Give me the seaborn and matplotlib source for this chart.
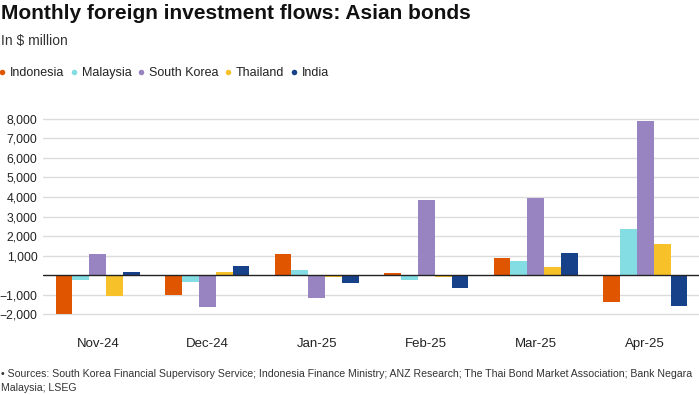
import matplotlib
matplotlib.use("Agg")
import matplotlib.pyplot as plt
import seaborn as sns
import pandas as pd
from matplotlib.lines import Line2D
from matplotlib.ticker import FixedLocator

months = ["Nov-24", "Dec-24", "Jan-25", "Feb-25", "Mar-25", "Apr-25"]
countries = ["Indonesia", "Malaysia", "South Korea", "Thailand", "India"]
indonesia = [-2000, -1020, 1080, 100, 870, -1400]
malaysia = [-250, -340, 250, -250, 720, 2360]
south_korea = [1060, -1620, -1160, 3860, 3970, 7910]
thailand = [-1100, 170, -100, -120, 430, 1570]
india = [130, 460, -430, -650, 1110, -1570]
colors = ["#DF5500", "#83DDE3", "#9884C1", "#F7C12A", "#17428A"]
yticks = [-2000, -1000, 1000, 2000, 3000, 4000, 5000, 6000, 7000, 8000]

series = [indonesia, malaysia, south_korea, thailand, india]
rows = []
for c, vals in zip(countries, series):
    for m, v in zip(months, vals):
        rows.append({"month": m, "country": c, "value": v})
df = pd.DataFrame(rows)

sns.set_style("white")
plt.rcParams["font.family"] = ["Liberation Sans", "DejaVu Sans"]

fig = plt.figure(figsize=(6.99, 3.95), dpi=100)
ax = fig.add_axes([43/699, 0.1927, 657/699, 0.5258])

sns.barplot(data=df, x="month", y="value", hue="country", order=months,
            hue_order=countries, palette=colors, width=0.77, ax=ax,
            legend=False, saturation=1, linewidth=0)

ax.set_ylim(-2250, 8400)
ax.set_xlim(-0.5, 5.5)
ax.yaxis.set_major_locator(FixedLocator(yticks))
ax.set_yticklabels([f"{v:,}".replace("-", "\u2212") for v in yticks])
ax.grid(axis="y", color="#dcdcdc", linewidth=1.0)
ax.set_axisbelow(True)
ax.axhline(0, color="#222222", linewidth=1.0, zorder=3)
for s in ax.spines.values():
    s.set_visible(False)
ax.set_xlabel("")
ax.set_ylabel("")
ax.tick_params(axis="y", length=0, pad=4, labelsize=8.8, labelcolor="#222222")
ax.tick_params(axis="x", length=0, pad=14, labelsize=9.5, labelcolor="#222222")

fig.text(0.002, 0.965, "Monthly foreign investment flows: Asian bonds",
         fontsize=15, fontweight="bold", va="center", ha="left", color="#111111")
fig.text(0.002, 0.897, "In $ million", fontsize=10, va="center", ha="left", color="#333333")

handles = [Line2D([0], [0], marker="o", color="w", markerfacecolor=c, markersize=5,
                  linewidth=0) for c in colors]
fig.legend(handles, countries, loc="center left", bbox_to_anchor=(-0.002, 0.815),
           ncol=5, frameon=False, fontsize=9, handletextpad=0.3,
           columnspacing=0.5, handlelength=0.6, borderpad=0, borderaxespad=0,
           labelcolor="#222222")

fig.text(0.002, 0.052, "\u2022 Sources: South Korea Financial Supervisory Service; Indonesia Finance Ministry; "
         "ANZ Research; The Thai Bond Market Association; Bank Negara",
         fontsize=7.6, va="center", ha="left", color="#333333")
fig.text(0.002, 0.018, "Malaysia; LSEG", fontsize=7.6, va="center", ha="left", color="#333333")

fig.savefig("out.png", dpi=100)
